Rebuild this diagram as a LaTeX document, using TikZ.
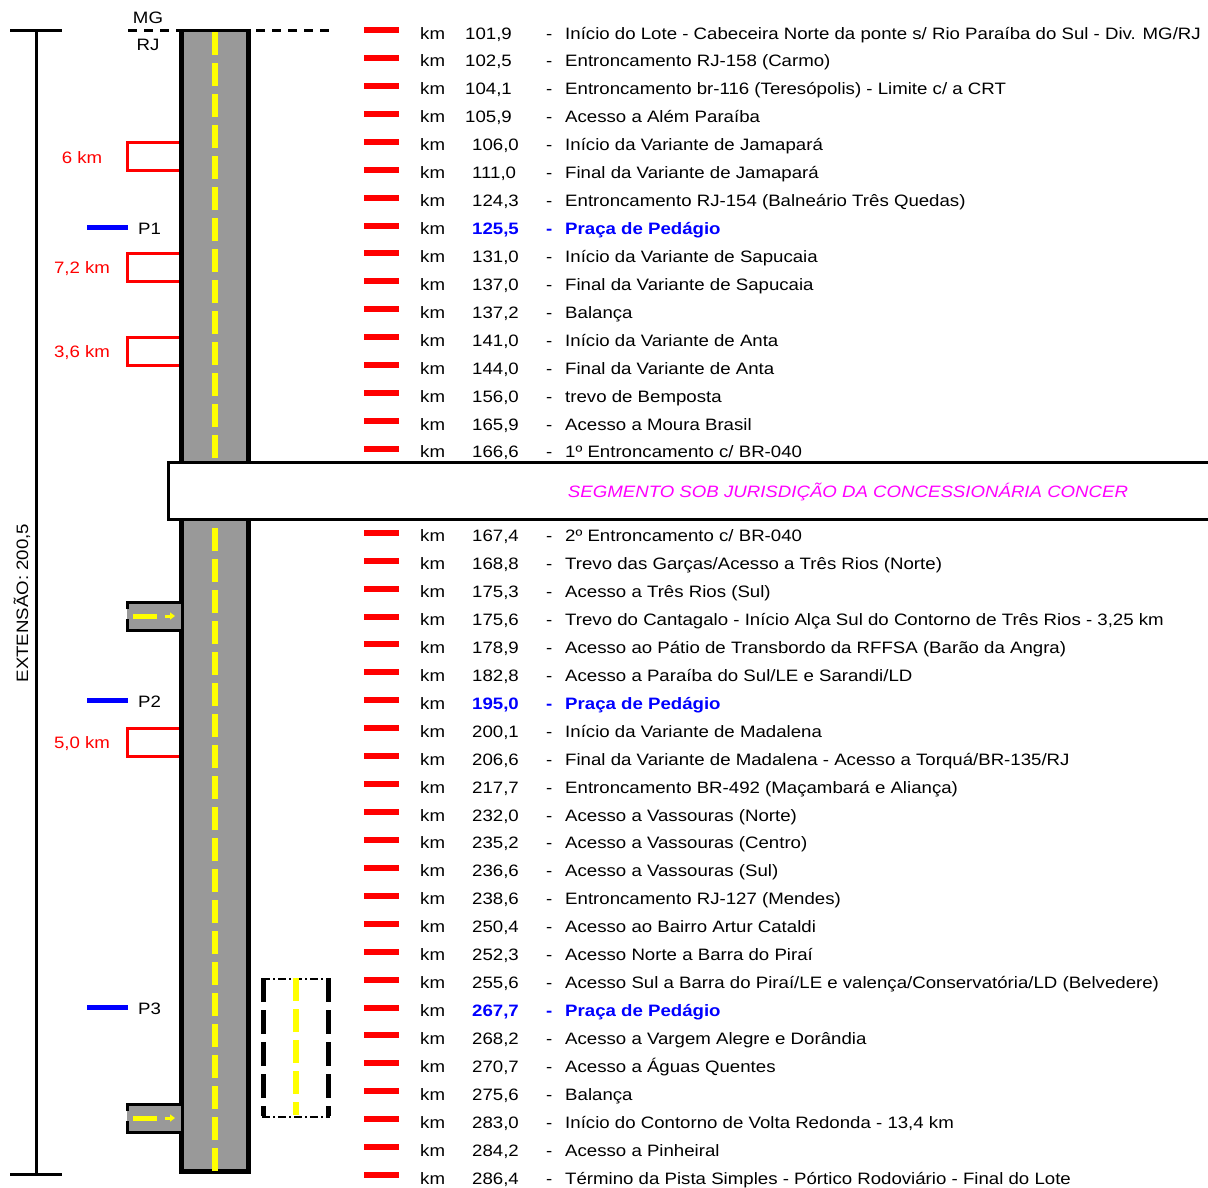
\documentclass[tikz,border=0pt]{standalone}
\usepackage{fontspec}
\setmainfont{Liberation Sans}[FakeStretch=1.13]
\usetikzlibrary{arrows.meta}

\definecolor{asphalt}{RGB}{153,153,153}
\definecolor{lane}{RGB}{255,255,0}
\definecolor{concer}{RGB}{255,0,255}

\tikzset{
  txt/.style={font=\fontsize{16.5}{19}\selectfont, inner sep=0pt, anchor=base west},
  toll/.style={txt, text=blue, font=\fontsize{16.5}{19}\selectfont\bfseries},
  lbl/.style={font=\fontsize{16.5}{19}\selectfont, inner sep=0pt},
  tick/.style={red, line width=6pt},
  bracket/.style={red, line width=3pt},
  post/.style={blue, line width=5pt},
  edge/.style={black, line width=5pt},
  centre/.style={lane, line width=6pt, dash pattern=on 23pt off 8pt},
}

\begin{document}
\begin{tikzpicture}[x=1pt,y=-1pt]
\useasboundingbox (0,0) rectangle (1208,1187);

% extension
\draw[line width=3pt] (10,30) -- (62,30);
\draw[line width=3pt] (36,30) -- (36,1174);
\draw[line width=3pt] (10,1174) -- (62,1174);
\node[lbl, rotate=90] (ext) at (22,603) {EXTENSÃO: 200,5};

% divisa MG/RJ
\draw[line width=3pt, dash pattern=on 9pt off 7pt] (128,30) -- (332,30);
\node[lbl] (mg) at (148,18) {MG};
\node[lbl] (rj) at (148,45) {RJ};

% pista
\fill[asphalt] (179,30) rectangle (251,1174);
\draw[edge] (181.5,30) -- (181.5,1171.5) -- (248.5,1171.5) -- (248.5,30);
\draw[line width=3pt] (179,30) -- (251,30);
\draw[centre] (215,32) -- (215,1172);

% acessos laterais
\foreach \y in {602,1104}{
  \fill[asphalt] (127,\y) rectangle (181,\y+28);
  \draw[line width=3pt] (127,\y+7) -- (127,\y) -- (181,\y);
  \draw[line width=3pt] (127,\y+17) -- (127,\y+28) -- (181,\y+28);
  \draw[lane, line width=5pt] (133,\y+14) -- (157,\y+14);
  \draw[lane, line width=3pt, -{Triangle[length=5pt,width=7pt]}] (165,\y+14) -- (175,\y+14);
}

% variantes
\foreach \y/\d in {142/6 km, 253/{7,2 km}, 337/{3,6 km}, 728/{5,0 km}}{
  \draw[bracket] (179,\y) -- (127,\y) -- (127,\y+28) -- (179,\y+28);
  \node[lbl, text=red] (var\y) at (82,\y+16) {\d};
}

% pracas de pedagio
\foreach \y/\p in {227/P1, 700/P2, 1007/P3}{
  \draw[post] (87,\y) -- (128,\y);
  \node[lbl, anchor=west] (\p) at (138,\y+2) {\p};
}

% contorno de Volta Redonda
\draw[line width=5pt, dash pattern=on 24pt off 8pt] (263.5,978) -- (263.5,1116);
\draw[line width=5pt, dash pattern=on 24pt off 8pt] (328.5,978) -- (328.5,1116);
\draw[line width=2.5pt, dash pattern=on 8pt off 3pt on 2pt off 3pt] (262,979) -- (330,979);
\draw[line width=2.5pt, dash pattern=on 8pt off 3pt on 2pt off 3pt] (262,1117) -- (330,1117);
\draw[centre] (296,978) -- (296,1115);

% marcos quilometricos
\foreach \k/\v/\t in {
  0/{101,9}/{Início do Lote - Cabeceira Norte da ponte s/ Rio Paraíba do Sul - Div. MG/RJ},
  1/{102,5}/{Entroncamento RJ-158 (Carmo)},
  2/{104,1}/{Entroncamento br-116 (Teresópolis) - Limite c/ a CRT},
  3/{105,9}/{Acesso a Além Paraíba},
  4/{106,0}/{Início da Variante de Jamapará},
  5/{111,0}/{Final da Variante de Jamapará},
  6/{124,3}/{Entroncamento RJ-154 (Balneário Três Quedas)},
  8/{131,0}/{Início da Variante de Sapucaia},
  9/{137,0}/{Final da Variante de Sapucaia},
  10/{137,2}/{Balança},
  11/{141,0}/{Início da Variante de Anta},
  12/{144,0}/{Final da Variante de Anta},
  13/{156,0}/{trevo de Bemposta},
  14/{165,9}/{Acesso a Moura Brasil},
  15/{166,6}/{1º Entroncamento c/ BR-040},
  18/{167,4}/{2º Entroncamento c/ BR-040},
  19/{168,8}/{Trevo das Garças/Acesso a Três Rios (Norte)},
  20/{175,3}/{Acesso a Três Rios (Sul)},
  21/{175,6}/{Trevo do Cantagalo - Início Alça Sul do Contorno de Três Rios - 3,25 km},
  22/{178,9}/{Acesso ao Pátio de Transbordo da RFFSA (Barão da Angra)},
  23/{182,8}/{Acesso a Paraíba do Sul/LE e Sarandi/LD},
  25/{200,1}/{Início da Variante de Madalena},
  26/{206,6}/{Final da Variante de Madalena - Acesso a Torquá/BR-135/RJ},
  27/{217,7}/{Entroncamento BR-492 (Maçambará e Aliança)},
  28/{232,0}/{Acesso a Vassouras (Norte)},
  29/{235,2}/{Acesso a Vassouras (Centro)},
  30/{236,6}/{Acesso a Vassouras (Sul)},
  31/{238,6}/{Entroncamento RJ-127 (Mendes)},
  32/{250,4}/{Acesso ao Bairro Artur Cataldi},
  33/{252,3}/{Acesso Norte a Barra do Piraí},
  34/{255,6}/{Acesso Sul a Barra do Piraí/LE e valença/Conservatória/LD (Belvedere)},
  36/{268,2}/{Acesso a Vargem Alegre e Dorândia},
  37/{270,7}/{Acesso a Águas Quentes},
  38/{275,6}/{Balança},
  39/{283,0}/{Início do Contorno de Volta Redonda - 13,4 km},
  40/{284,2}/{Acesso a Pinheiral},
  41/{286,4}/{Término da Pista Simples - Pórtico Rodoviário - Final do Lote}}{
  \pgfmathsetmacro\yy{33+27.93*\k}
  \pgfmathsetmacro\nx{\k<4 ? 465 : 472}
  \draw[tick] (364,\yy-3) -- (399,\yy-3);
  \node[txt] (km\k) at (420,\yy+6) {km};
  \node[txt] (v\k) at (\nx,\yy+6) {\v};
  \node[txt] (d\k) at (546,\yy+6) {-};
  \node[txt] (t\k) at (565,\yy+6) {\t};
}

% pedagios
\foreach \k/\v in {7/{125,5}, 24/{195,0}, 35/{267,7}}{
  \pgfmathsetmacro\yy{33+27.93*\k}
  \draw[tick] (364,\yy-3) -- (399,\yy-3);
  \node[txt] (km\k) at (420,\yy+6) {km};
  \node[toll] (v\k) at (472,\yy+6) {\v};
  \node[toll] (d\k) at (546,\yy+6) {-};
  \node[toll] (t\k) at (565,\yy+6) {Praça de Pedágio};
}

% segmento concer
\draw[line width=3pt, fill=white] (168,462) rectangle (1212,519);
\node[lbl, text=concer, font=\fontsize{16.5}{19}\selectfont\itshape] (concer) at (848,492)
  {SEGMENTO SOB JURISDIÇÃO DA CONCESSIONÁRIA CONCER};
\end{tikzpicture}
\end{document}
